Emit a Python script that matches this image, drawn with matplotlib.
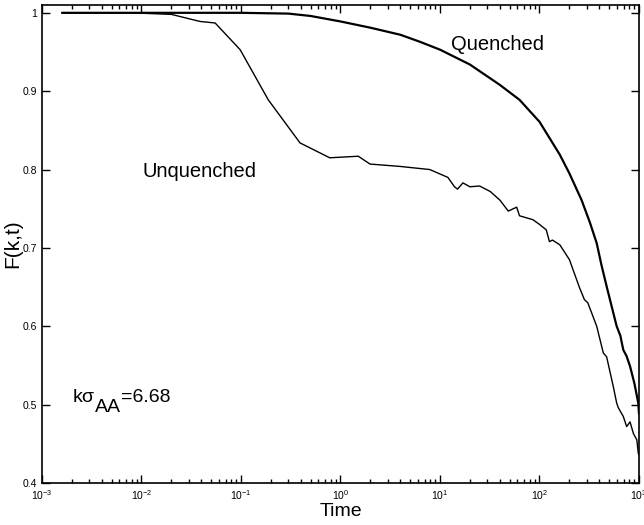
import numpy as np
import matplotlib.pyplot as plt
from matplotlib.ticker import FuncFormatter, LogLocator
from matplotlib.transforms import offset_copy

plt.rcParams['font.family'] = ['Liberation Sans', 'DejaVu Sans']
plt.rcParams['mathtext.fontset'] = 'custom'
plt.rcParams['mathtext.rm'] = 'Liberation Sans'
plt.rcParams['mathtext.it'] = 'Liberation Sans'

# quenched curve
t_q = [0.0016, 0.01, 0.1, 0.3, 0.5, 1.0, 2.0, 4.0, 6.3, 10, 20, 40, 63, 100,
       160, 200, 265, 320, 376, 420, 473, 530, 597, 650, 695, 750, 813, 900, 984, 1000]
f_q = [1.0, 1.0, 1.0, 0.999, 0.996, 0.989, 0.981, 0.972, 0.963, 0.953, 0.934,
       0.908, 0.889, 0.861, 0.819, 0.795, 0.761, 0.733, 0.706, 0.678, 0.651,
       0.626, 0.600, 0.588, 0.570, 0.562, 0.549, 0.527, 0.502, 0.489]

# unquenched curve
t_u = [0.0016, 0.008, 0.02, 0.0387, 0.055, 0.098, 0.188, 0.392, 0.78, 1.51,
       1.98, 3.96, 7.9, 12, 14, 15, 17, 20, 25, 32, 40, 48.6, 59, 63, 86, 100,
       117, 126, 135, 160, 200, 253, 283, 306, 376, 438, 473, 552, 597, 620,
       695, 752, 813, 880, 952, 984, 1000]
f_u = [1.0, 1.0, 0.998, 0.989, 0.987, 0.953, 0.889, 0.834, 0.815, 0.817,
       0.807, 0.804, 0.800, 0.790, 0.778, 0.775, 0.783, 0.778, 0.779, 0.772,
       0.761, 0.747, 0.752, 0.741, 0.736, 0.730, 0.723, 0.708, 0.710, 0.704,
       0.685, 0.649, 0.634, 0.630, 0.600, 0.566, 0.561, 0.523, 0.502, 0.496,
       0.485, 0.472, 0.478, 0.463, 0.455, 0.438, 0.436]

xticks = [1e-3, 1e-2, 1e-1, 1e0, 1e1, 1e2, 1e3]
yticks = [0.4, 0.5, 0.6, 0.7, 0.8, 0.9, 1.0]

fig = plt.figure(figsize=(6.44, 5.25), dpi=100)
ax = fig.add_axes([0.0652, 0.08, 0.927, 0.9105])

ax.plot(t_q, f_q, color='black', lw=1.6)
ax.plot(t_u, f_u, color='black', lw=1.0)

ax.set_xscale('log')
ax.set_xlim(1e-3, 1e3)
ax.set_ylim(0.4, 1.01)
ax.set_xticks(xticks)
ax.xaxis.set_minor_locator(LogLocator(base=10, subs=np.arange(2, 10), numticks=20))
ax.set_yticks(yticks)
ax.yaxis.set_major_formatter(FuncFormatter(lambda v, p: '%g' % v))
ax.tick_params(which='both', direction='in', top=True, right=True, labelsize=7.5, width=1)
ax.tick_params(which='major', length=6)
ax.tick_params(which='minor', length=3)
for s in ax.spines.values():
    s.set_linewidth(1.2)

ax.set_xlabel('Time', fontsize=14, labelpad=1)
ax.set_ylabel('F(k,t)', fontsize=15, labelpad=0)

ax.text(38, 0.960, 'Quenched', fontsize=14.5, ha='center', va='center')
ax.text(0.0387, 0.798, 'Unquenched', fontsize=14.5, ha='center', va='center')

# k sigma_AA label with full-size lowered subscript
fig.canvas.draw()
r = fig.canvas.get_renderer()
t1 = ax.text(0.00205, 0.503, 'kσ', fontsize=14, va='baseline')
w1 = t1.get_window_extent(r).width
t2 = ax.text(0.00205, 0.503, 'AA', fontsize=14, va='baseline',
             transform=offset_copy(ax.transData, fig=fig, x=w1, y=-10, units='dots'))
w2 = t2.get_window_extent(r).width
ax.text(0.00205, 0.503, '=6.68', fontsize=14, va='baseline',
        transform=offset_copy(ax.transData, fig=fig, x=w1 + w2, y=0, units='dots'))

fig.savefig('out.png', dpi=100)
